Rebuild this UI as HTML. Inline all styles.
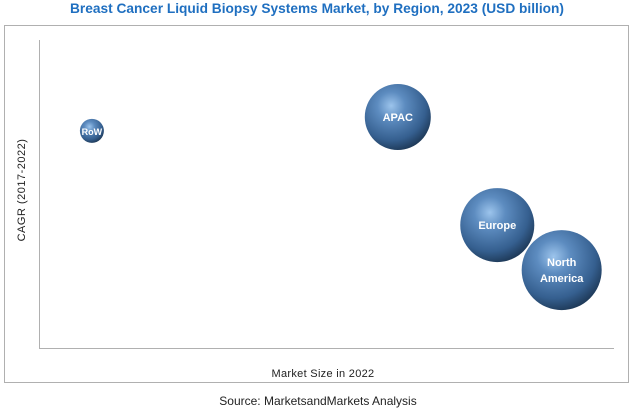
<!DOCTYPE html>
<html><head><meta charset="utf-8"><style>
html,body{margin:0;padding:0;background:#fff;width:630px;height:414px;overflow:hidden}
svg{display:block;font-family:"Liberation Sans",sans-serif}
</style></head><body>
<svg id="c" width="630" height="414" viewBox="0 0 630 414">
<defs>
<radialGradient id="g" cx="0.4" cy="0.33" r="0.7">
<stop offset="0" stop-color="#9cc4ec"/>
<stop offset="0.3" stop-color="#5d8cc0"/>
<stop offset="0.75" stop-color="#355f8f"/>
<stop offset="1" stop-color="#1d3856"/>
</radialGradient>
</defs>
<text x="317" y="13" text-anchor="middle" font-size="14" font-weight="bold" fill="#1f6fc0" textLength="494" lengthAdjust="spacingAndGlyphs">Breast Cancer Liquid Biopsy Systems Market, by Region, 2023 (USD billion)</text>
<rect x="4.5" y="25.5" width="624" height="357" fill="none" stroke="#b0b0b0"/>
<line x1="39.5" y1="40" x2="39.5" y2="348" stroke="#b0b0b0"/>
<line x1="39" y1="348.5" x2="614" y2="348.5" stroke="#b0b0b0"/>
<text x="0" y="0" transform="translate(25,190) rotate(-90)" text-anchor="middle" font-size="11" fill="#222" letter-spacing="0.5">CAGR (2017-2022)</text>
<text x="323" y="377" text-anchor="middle" font-size="11" fill="#222" letter-spacing="0.3">Market Size in 2022</text>
<text x="318" y="405" text-anchor="middle" font-size="12" fill="#222">Source: MarketsandMarkets Analysis</text>
<g id="bubbles"></g>
</svg>
<script>
const regions = ["RoW","APAC","Europe","North America"];
const marketSize = [9.2, 62.4, 79.7, 90.9];
const cagr = [70.5, 75.0, 39.9, 25.3];
const bubbleSize = [1.44, 10.9, 13.7, 16];
const xScale = v => 39 + v * (614 - 39) / 100;
const yScale = v => 348 - v * (348 - 40) / 100;
const rScale = s => 10 * Math.sqrt(s);
const NS = "http://www.w3.org/2000/svg";
const g = document.getElementById("bubbles");
regions.forEach((name, i) => {
  const cx = xScale(marketSize[i]), cy = yScale(cagr[i]), r = rScale(bubbleSize[i]);
  const c = document.createElementNS(NS, "circle");
  c.setAttribute("cx", cx); c.setAttribute("cy", cy); c.setAttribute("r", r);
  c.setAttribute("fill", "url(#g)");
  
  
  g.appendChild(c);
  const lines = name.split(" ");
  const fs = r < 20 ? 9 : 11;
  lines.forEach((ln, j) => {
    const t = document.createElementNS(NS, "text");
    t.setAttribute("x", cx);
    t.setAttribute("y", cy + 4 + (j - (lines.length - 1) / 2) * 16);
    t.setAttribute("text-anchor", "middle");
    t.setAttribute("font-size", fs);
    t.setAttribute("font-weight", "bold");
    t.setAttribute("fill", "#fff");
    t.textContent = ln;
    
    
    g.appendChild(t);
  });
});
</script>
</body></html>
